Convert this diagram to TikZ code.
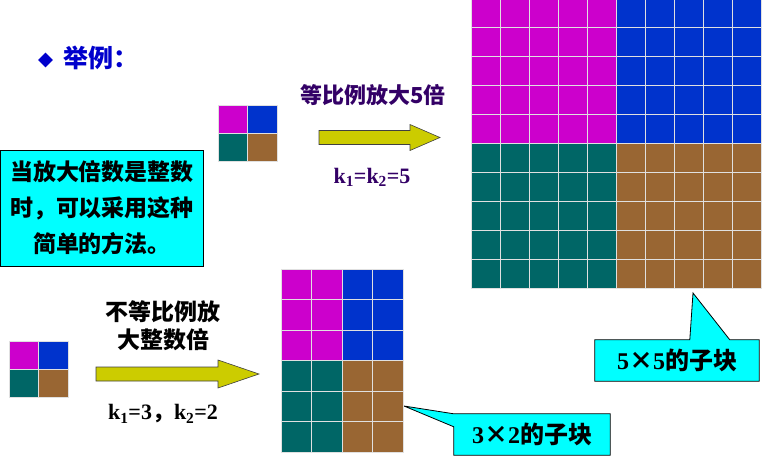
\documentclass[tikz,border=0pt]{standalone}
\usepackage{fontspec}
\setmainfont{Liberation Serif}
\newfontfamily\zh{Noto Sans CJK SC}
\usepackage{tikz}
\usetikzlibrary{shapes.geometric,positioning,calc,backgrounds}
\definecolor{blkmag}{HTML}{CC00CC}
\definecolor{blkblue}{HTML}{0033CC}
\definecolor{blkteal}{HTML}{006666}
\definecolor{blkbrown}{HTML}{996633}
\definecolor{notecyan}{HTML}{00FFFF}
\definecolor{titleblue}{HTML}{0000CC}
\definecolor{labelpurple}{HTML}{330066}
\definecolor{arrowyel}{HTML}{CCCC00}
\tikzset{
  cellbox/.style={draw=white!88!black, line width=0.8pt},
  bigarrow/.style={draw=black!75, fill=arrowyel, line width=0.6pt},
  notebox/.style={
    draw=black, fill=notecyan, line width=0.8pt,
    align=center, font=\zh\bfseries\fontsize{23}{36}\selectfont
  },
  labeltext/.style={align=center, font=\zh\bfseries\fontsize{22}{28}\selectfont},
  ktext/.style={font=\bfseries\fontsize{22}{24}\selectfont},
  callouttext/.style={font=\bfseries\fontsize{24}{26}\selectfont},
  calloutbox/.style={draw=black, fill=notecyan, line width=0.8pt}
}
\newcommand{\cellgrid}[7]{% x0, y0, cols, rows, w, h, colour
  \foreach \i in {1,...,#3}
    \foreach \j in {1,...,#4}
      \draw[cellbox, fill=#7] ({#1+(\i-1)*#5},{#2+(\j-1)*#6}) rectangle +(#5,#6);
}
% tail x, head x, tip x, axis y, half shaft, half head
\newcommand{\blockarrow}[6]{%
  \draw[bigarrow] (#1,#4-#5) -- (#2,#4-#5) -- (#2,#4-#6) -- (#3,#4)
    -- (#2,#4+#6) -- (#2,#4+#5) -- (#1,#4+#5) -- cycle;
}
\begin{document}
\begin{tikzpicture}[x=1pt,y=-1pt]
  \useasboundingbox (0,0) rectangle (764,459);

  \node[diamond, fill=titleblue, minimum size=15pt, inner sep=0pt] (bullet) at (45.5,60) {};
  \node[anchor=west, text=titleblue, font=\zh\bfseries\fontsize{25}{26}\selectfont] (title) at (60,58) {举例：};

  % original blocks
  \cellgrid{218}{105}{1}{1}{29.5}{28}{blkmag}
  \cellgrid{247.5}{105}{1}{1}{29.5}{28}{blkblue}
  \cellgrid{218}{133}{1}{1}{29.5}{28}{blkteal}
  \cellgrid{247.5}{133}{1}{1}{29.5}{28}{blkbrown}

  \cellgrid{9}{341}{1}{1}{29.5}{28}{blkmag}
  \cellgrid{38.5}{341}{1}{1}{29.5}{28}{blkblue}
  \cellgrid{9}{369}{1}{1}{29.5}{28}{blkteal}
  \cellgrid{38.5}{369}{1}{1}{29.5}{28}{blkbrown}

  % 5 x 5
  \cellgrid{471}{-2}{5}{5}{29}{29}{blkmag}
  \cellgrid{616}{-2}{5}{5}{29}{29}{blkblue}
  \cellgrid{471}{143}{5}{5}{29}{29}{blkteal}
  \cellgrid{616}{143}{5}{5}{29}{29}{blkbrown}

  % 3 x 2
  \cellgrid{281}{269}{2}{3}{30.5}{30.5}{blkmag}
  \cellgrid{342}{269}{2}{3}{30.5}{30.5}{blkblue}
  \cellgrid{281}{360.5}{2}{3}{30.5}{30.5}{blkteal}
  \cellgrid{342}{360.5}{2}{3}{30.5}{30.5}{blkbrown}

  \node[notebox, minimum width=203pt, minimum height=116pt] (note) at (102,208)
    {当放大倍数是整数\\时，可以采用这种\\简单的方法。};

  \node[labeltext, text=labelpurple] (lblsame) at (373,95) {等比例放大5倍};
  \blockarrow{319}{410}{440}{137.5}{7}{13}
  \node[ktext, text=labelpurple] (ksame) at (372,177) {k\textsubscript{1}=k\textsubscript{2}=5};

  \node[labeltext, font=\zh\bfseries\fontsize{23}{28}\selectfont] (lbldiff) at (163,326) {不等比例放\\大整数倍};
  \blockarrow{96}{218}{259}{374}{7}{14}
  \node[ktext] (kdiff) at (163,414) {k\textsubscript{1}=3{\zh ，}k\textsubscript{2}=2};

  \node[callouttext, minimum width=164pt, minimum height=41pt] (sub55) at (677,360.5)
    {5{\zh ×}5{\zh 的子块}};
  \coordinate (tip55) at (693,293);
  \node[callouttext, minimum width=156pt, minimum height=41pt] (sub32) at (532,434.5)
    {3{\zh ×}2{\zh 的子块}};
  \coordinate (tip32) at (404,406);

  \begin{scope}[on background layer]
    \draw[calloutbox] (sub55.north west) -- ($(sub55.north west)+(95,0)$) -- (tip55)
      -- ($(sub55.north west)+(135,0)$) -- (sub55.north east) -- (sub55.south east)
      -- (sub55.south west) -- cycle;
    \draw[calloutbox] (sub32.north west) -- (tip32) -- ($(sub32.north west)+(0,13)$)
      -- (sub32.south west) -- (sub32.south east) -- (sub32.north east) -- cycle;
  \end{scope}
\end{tikzpicture}
\end{document}
